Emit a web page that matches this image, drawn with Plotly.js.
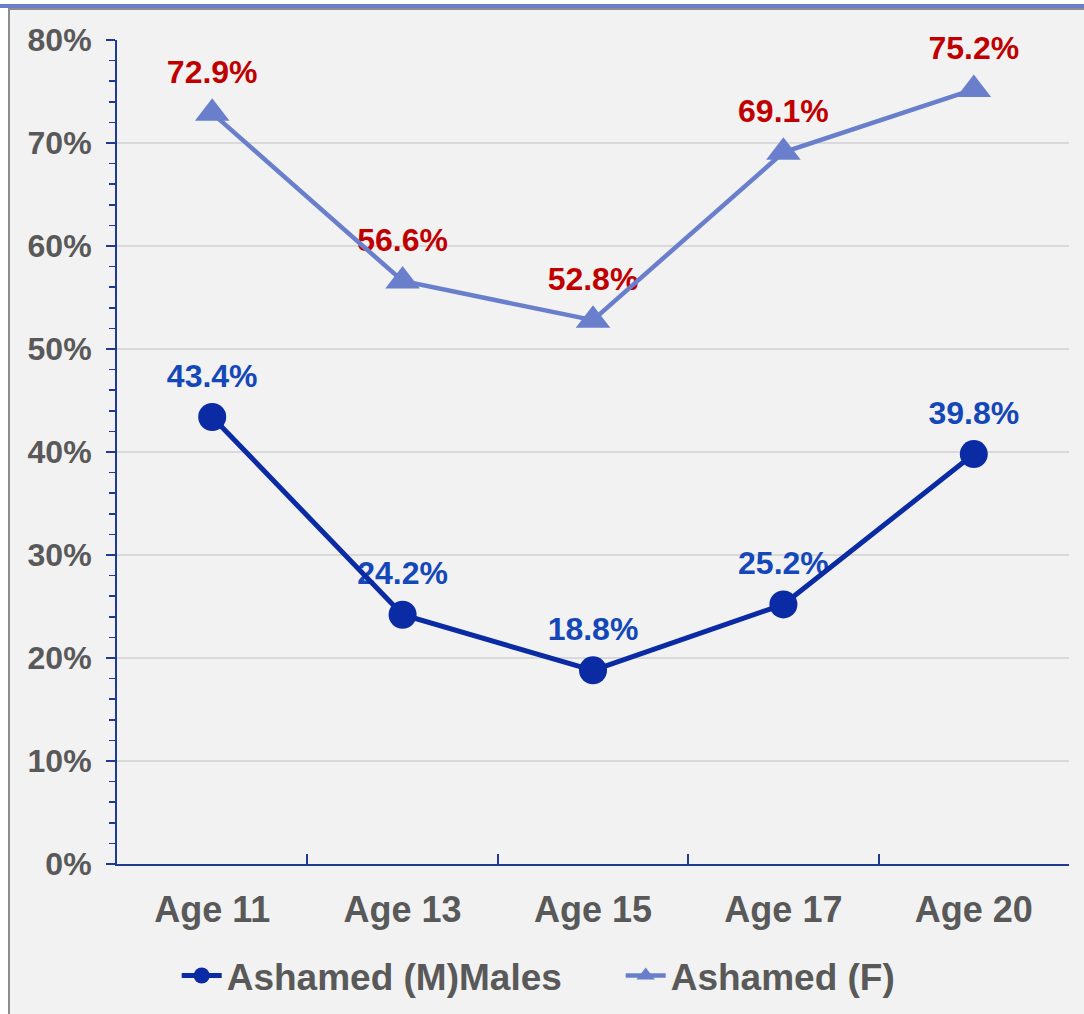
<!DOCTYPE html>
<html>
<head>
<meta charset="utf-8">
<script src="https://cdn.plot.ly/plotly-3.0.1.min.js"></script>
<style>
  html, body { margin: 0; padding: 0; background: #ffffff; }
  body { width: 1084px; height: 1014px; position: relative; overflow: hidden; }
  #band { position: absolute; left: 0; top: 4px; width: 1084px; height: 4px; background: #6a7fcc; }
  #frame { position: absolute; left: 8px; top: 8px; width: 1076px; height: 1006px; background: #f2f2f2;
           border-left: 2px solid #8c8c8c; border-top: 2px solid #8c8c8c; box-sizing: border-box; }
  #chart { position: absolute; left: 0; top: 0; width: 1084px; height: 1014px; }
</style>
</head>
<body>
<div id="band"></div>
<div id="frame"></div>
<div id="chart"></div>
<script>
const categories = ["Age 11", "Age 13", "Age 15", "Age 17", "Age 20"];
const maleName = "Ashamed (M)Males";
const femaleName = "Ashamed (F)";
const maleValues = [0.434, 0.242, 0.188, 0.252, 0.398];
const femaleValues = [0.729, 0.566, 0.528, 0.691, 0.752];
const maleLabels = ["43.4%", "24.2%", "18.8%", "25.2%", "39.8%"];
const femaleLabels = ["72.9%", "56.6%", "52.8%", "69.1%", "75.2%"];

const FONT = "Liberation Sans, Arial, sans-serif";
const GRAY = "#595959";
const AXIS = "#1f3a93";

const traces = [
  {
    x: categories, y: femaleValues, text: femaleLabels, type: "scatter", mode: "markers+text",
    textposition: "top center", showlegend: false, hoverinfo: "skip", cliponaxis: false,
    marker: { size: 34, color: "rgba(0,0,0,0)" },
    textfont: { family: FONT, size: 32, color: "#c00000", weight: "bold" }
  },
  {
    x: categories, y: maleValues, text: maleLabels, type: "scatter", mode: "markers+text",
    textposition: "top center", showlegend: false, hoverinfo: "skip", cliponaxis: false,
    marker: { size: 34, color: "rgba(0,0,0,0)" },
    textfont: { family: FONT, size: 32, color: "#1447b8", weight: "bold" }
  },
  {
    x: categories, y: maleValues, name: maleName, type: "scatter", mode: "lines+markers",
    line: { color: "#0a2ba3", width: 5 },
    marker: { symbol: "circle", size: 28, color: "#0a2ba3" }
  },
  {
    x: categories, y: femaleValues, name: femaleName, type: "scatter", mode: "lines+markers",
    line: { color: "#6a7fcc", width: 4.5 },
    marker: { symbol: "triangle-up", size: 30, color: "#6a7fcc" }
  }
];

const layout = {
  width: 1084, height: 1014, autosize: false,
  margin: { l: 117, r: 15, t: 40, b: 150, pad: 0 },
  paper_bgcolor: "rgba(0,0,0,0)",
  plot_bgcolor: "rgba(0,0,0,0)",
  font: { family: FONT, color: GRAY },
  xaxis: {
    type: "category", range: [-0.5, 4.5], tickson: "boundaries",
    ticks: "inside", ticklen: 10, tickwidth: 2, tickcolor: AXIS,
    showline: true, linecolor: AXIS, linewidth: 2,
    showgrid: false, zeroline: false,
    tickfont: { family: FONT, size: 36, color: GRAY, weight: "bold" },
    ticklabelstandoff: 13
  },
  yaxis: {
    range: [0, 0.8], dtick: 0.1, tickformat: ".0%",
    ticks: "outside", ticklen: 9, tickwidth: 2, tickcolor: AXIS,
    minor: { dtick: 0.02, ticks: "outside", ticklen: 6, tickwidth: 1.5, tickcolor: AXIS, showgrid: false },
    showline: true, linecolor: AXIS, linewidth: 2,
    showgrid: true, gridcolor: "#d9d9d9", gridwidth: 2, zeroline: false,
    tickfont: { family: FONT, size: 32, color: GRAY, weight: "bold" },
    ticklabelstandoff: 8
  },
  legend: {
    orientation: "h", xref: "container", yref: "container",
    x: 0.163, xanchor: "left", y: 0.0375, yanchor: "middle",
    font: { family: FONT, size: 37, color: GRAY, weight: "bold" },
    bgcolor: "rgba(0,0,0,0)", itemwidth: 40,
    entrywidth: 389, entrywidthmode: "pixels"
  },
  showlegend: true
};

Plotly.newPlot("chart", traces, layout, { displayModeBar: false, staticPlot: true });
</script>
</body>
</html>
